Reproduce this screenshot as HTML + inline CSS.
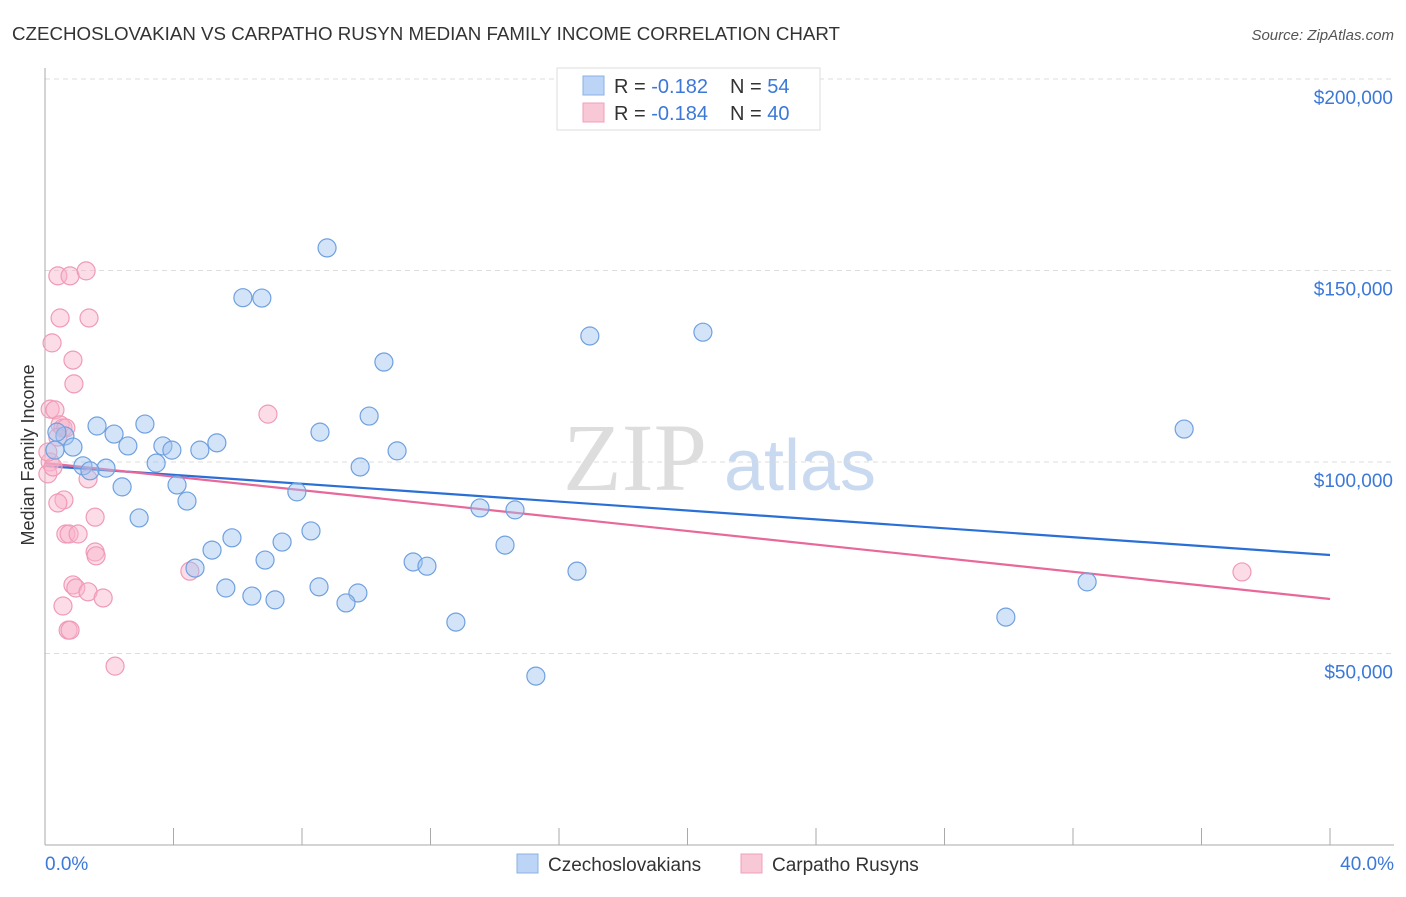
<!DOCTYPE html>
<html><head><meta charset="utf-8"><style>
body{margin:0;background:#fff;font-family:"Liberation Sans",sans-serif;}
svg text{font-family:"Liberation Sans",sans-serif;}
</style></head><body>
<svg id="chart" width="1406" height="892" xmlns="http://www.w3.org/2000/svg">
<text x="12" y="40" font-size="18" fill="#333" textLength="828" lengthAdjust="spacingAndGlyphs">CZECHOSLOVAKIAN VS CARPATHO RUSYN MEDIAN FAMILY INCOME CORRELATION CHART</text>
<text x="1394" y="40" font-size="15" fill="#555" font-style="italic" text-anchor="end">Source: ZipAtlas.com</text>
<g>
<text x="635" y="490" font-size="96" fill="#ddd" text-anchor="middle" font-family="Liberation Serif" style="font-family:'Liberation Serif',serif">ZIP</text>
<text x="800" y="490" font-size="72" fill="#c9daf0" text-anchor="middle">atlas</text>
</g>
<g id="grid"></g>
<g id="axes"></g>
<g id="lines"></g>
<g id="points"></g>
<text transform="translate(34,455) rotate(-90)" font-size="18" fill="#333" text-anchor="middle">Median Family Income</text>
<g>
<rect x="557" y="68" width="263" height="62" fill="#fff" stroke="#ddd"/>
<rect x="583" y="76" width="21" height="19" fill="#bcd4f6" stroke="#8ab0e6"/>
<rect x="583" y="103" width="21" height="19" fill="#f9c8d6" stroke="#f0a0b8"/>
<text x="614" y="93" font-size="20" fill="#333">R = <tspan fill="#3b78d8">-0.182</tspan><tspan x="730">N = </tspan><tspan fill="#3b78d8">54</tspan></text>
<text x="614" y="120" font-size="20" fill="#333">R = <tspan fill="#3b78d8">-0.184</tspan><tspan x="730">N = </tspan><tspan fill="#3b78d8">40</tspan></text>
</g>
<g>
<rect x="517" y="854" width="21" height="19" fill="#bcd4f6" stroke="#8ab0e6"/>
<text x="548" y="871" font-size="19" fill="#333">Czechoslovakians</text>
<rect x="741" y="854" width="21" height="19" fill="#f9c8d6" stroke="#f0a0b8"/>
<text x="772" y="871" font-size="19" fill="#333">Carpatho Rusyns</text>
</g>
</svg>
<script>
const yTicks=[50000,100000,150000,200000];
const yTickLabels=["$50,000","$100,000","$150,000","$200,000"];
const xTicks=[0,4,8,12,16,20,24,28,32,36,40];
const blueX=[8.78,6.16,6.75,16.96,20.48,10.55,10.09,35.46,1.62,3.11,2.15,8.56,0.62,0.37,0.87,2.58,3.67,3.95,4.82,5.35,10.96,3.46,1.18,1.90,1.40,9.81,2.40,4.11,4.42,7.84,13.54,14.63,2.93,8.28,5.82,5.20,7.38,14.32,6.85,4.67,11.46,11.89,16.56,5.63,8.53,6.44,7.16,9.74,9.37,32.44,29.91,12.79,15.28,0.31];
const blueY=[155.9,142.9,142.8,132.9,133.9,126.1,112.0,108.6,109.4,109.9,107.3,107.8,106.8,107.8,103.9,104.2,104.2,103.1,103.1,105.0,102.9,99.7,99.0,98.4,97.7,98.7,93.5,94.0,89.8,92.2,88.0,87.5,85.4,82.0,80.2,77.0,79.1,78.3,74.4,72.3,73.9,72.8,71.5,67.1,67.4,65.0,64.0,65.8,63.2,68.7,59.5,58.2,44.1,103.1];
const pinkX=[0.40,0.78,1.28,0.47,1.37,0.22,0.87,0.90,0.16,0.31,6.94,0.47,0.56,0.65,0.40,0.16,0.09,0.25,1.34,0.59,0.40,1.56,0.65,0.75,1.03,1.56,1.59,0.87,0.96,1.34,1.81,0.56,0.72,0.78,2.18,4.51,37.26,0.09];
const pinkY=[148.6,148.6,149.9,137.6,137.6,131.1,126.6,120.4,113.8,113.6,112.5,109.7,108.9,108.9,106.5,100.0,96.9,98.7,95.6,90.1,89.3,85.6,81.2,81.2,81.2,76.5,75.5,67.9,67.1,66.1,64.5,62.4,56.1,56.1,46.7,71.5,71.3,102.6];
const blueTrend=[98.96,75.72];
const pinkTrend=[99.74,64.23];
const NS="http://www.w3.org/2000/svg";
const xs=v=>45+v*(1285/40);
const ys=v=>845-v*(383/100000);
function mk(tag,attrs,parent){const e=document.createElementNS(NS,tag);for(const k in attrs)e.setAttribute(k,attrs[k]);document.getElementById(parent).appendChild(e);return e;}
yTicks.forEach((t,i)=>{
 const g=mk('line',{x1:45,x2:1394,y1:ys(t),y2:ys(t),stroke:'#ddd','stroke-dasharray':'5,4'},'grid');
 
 
 const l=mk('text',{x:1393,y:ys(t)+25,'font-size':19,fill:'#3b78d8','text-anchor':'end'},'axes');
 l.textContent=yTickLabels[i];
 
 
});
const ya=mk('line',{x1:45,x2:45,y1:68,y2:845,stroke:'#aaa'},'axes');


const xa=mk('line',{x1:45,x2:1394,y1:845,y2:845,stroke:'#aaa'},'axes');


xTicks.forEach(t=>{
 const k=mk('line',{x1:xs(t),x2:xs(t),y1:828,y2:845,stroke:'#aaa'},'axes');
 
 
});
const xl0=mk('text',{x:45,y:870,'font-size':19,fill:'#3b78d8'},'axes');xl0.textContent=xTicks[0].toFixed(1)+'%';


const xl1=mk('text',{x:1394,y:870,'font-size':19,fill:'#3b78d8','text-anchor':'end'},'axes');xl1.textContent=xTicks[xTicks.length-1].toFixed(1)+'%';


function pts(X,Y,fill,stroke,name){X.forEach((x,i)=>{const c=mk('circle',{cx:xs(x),cy:ys(Y[i]*1000),r:9,fill:fill,stroke:stroke,'stroke-width':1.2},'points');
 
 });}
pts(pinkX,pinkY,'rgba(248,180,202,0.45)','#f09ab6','carpatho-rusyn-point');
pts(blueX,blueY,'rgba(160,196,240,0.45)','#6fa0e0','czechoslovakian-point');
const bl=mk('line',{x1:xs(0),y1:ys(blueTrend[0]*1000),x2:xs(40),y2:ys(blueTrend[1]*1000),stroke:'#2a6fd6','stroke-width':2.2},'lines');


const pl=mk('line',{x1:xs(0),y1:ys(pinkTrend[0]*1000),x2:xs(40),y2:ys(pinkTrend[1]*1000),stroke:'#e8689a','stroke-width':2.2},'lines');


</script>
</body></html>
